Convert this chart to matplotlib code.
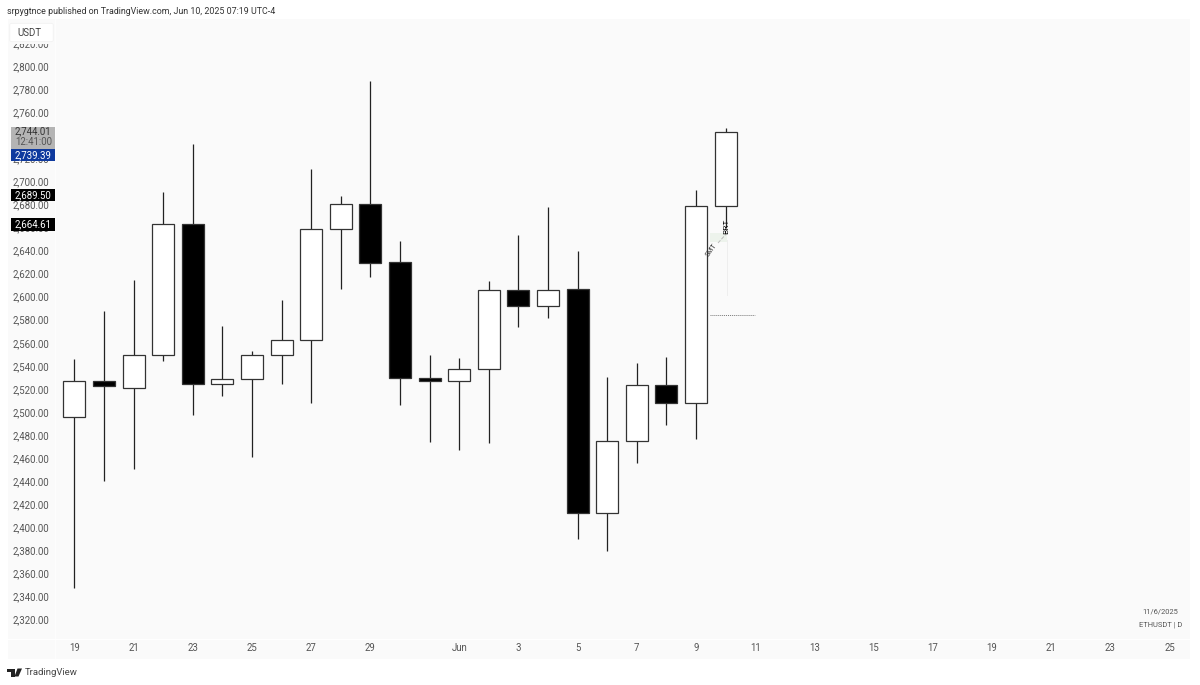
import matplotlib
matplotlib.use('Agg')
import matplotlib.pyplot as plt
from matplotlib.patches import Rectangle, FancyBboxPatch, Polygon
from matplotlib.transforms import ScaledTranslation

plt.rcParams['font.family'] = ['Roboto', 'DejaVu Sans']

W, H = 1200, 685

# daily candles, May 19 to Jun 10 2025
day = list(range(23))
open_ = [2496.4, 2527.7, 2522.0, 2550.0, 2664.0, 2525.0, 2529.4, 2550.0, 2563.0, 2659.5, 2681.0, 2631.0,
         2530.0, 2527.5, 2538.0, 2606.6, 2593.0, 2607.5, 2413.0, 2476.0, 2524.0, 2508.6, 2679.5]
close = [2527.7, 2523.3, 2550.0, 2664.0, 2525.0, 2529.4, 2550.0, 2563.0, 2659.5, 2681.0, 2630.0, 2530.0,
         2527.5, 2538.0, 2606.6, 2593.0, 2606.6, 2413.0, 2475.6, 2524.0, 2508.6, 2679.5, 2743.6]
high = [2546.7, 2588.4, 2615.0, 2692.0, 2733.0, 2575.0, 2554.0, 2598.0, 2711.5, 2688.0, 2788.0, 2649.0,
        2550.0, 2548.0, 2614.0, 2654.0, 2679.0, 2640.0, 2531.0, 2543.0, 2548.5, 2693.0, 2747.0]
low = [2348.0, 2441.0, 2451.0, 2545.0, 2498.0, 2515.0, 2462.0, 2525.0, 2509.0, 2607.5, 2618.0, 2507.0,
       2475.0, 2468.0, 2474.0, 2574.5, 2582.0, 2391.0, 2380.0, 2456.5, 2489.5, 2477.0, 2660.0]

# 2,740 is completely hidden behind the price tags in the reference
price_ticks = [p for p in range(2320, 2821, 20) if p != 2740]
date_pos = [0, 2, 4, 6, 8, 10, 13, 15, 17, 19, 21, 23, 25, 27, 29, 31, 33, 35, 37]
date_lab = ['19', '21', '23', '25', '27', '29', 'Jun', '3', '5', '7', '9', '11', '13', '15', '17', '19', '21', '23', '25']

fig = plt.figure(figsize=(12, 6.85), dpi=100, facecolor='white')

# main pane, pixel box 8..1190 x 19..639
ax = fig.add_axes([8 / W, 1 - 639 / H, 1182 / W, 620 / H], facecolor='#fafafa')
px_per_day = 29.6
ax.set_xlim((8 - 74.4) / px_per_day, (1190 - 74.4) / px_per_day)
px_per_usd = 1.153
ax.set_ylim(2800 - (639 - 67) / px_per_usd, 2800 - (19 - 67) / px_per_usd)
for s in ax.spines.values():
    s.set_visible(False)

for i in day:
    top = max(open_[i], close[i])
    bot = min(open_[i], close[i])
    col = 'white' if close[i] >= open_[i] else 'black'
    ax.plot([i, i], [bot, low[i]], color='#222222', lw=0.9, solid_capstyle='butt', zorder=2)
    ax.plot([i, i], [top, high[i]], color='#222222', lw=0.9, solid_capstyle='butt', zorder=2)
    ax.add_patch(Rectangle((i - 0.37, bot), 0.74, top - bot, facecolor=col, edgecolor='#333333', lw=0.9, zorder=3))

ax.set_yticks(price_ticks)
ax.set_yticklabels([f'{p:,.2f}' for p in price_ticks])
ax.tick_params(axis='y', length=0, pad=-29.5, labelsize=6.9, labelcolor='#555555')
ax.set_xticks([])
up_1px = ScaledTranslation(0, 1 / 100, fig.dpi_scale_trans)
for t in ax.get_yticklabels():
    t.set_transform(t.get_transform() + up_1px)

# time axis strip
ax2 = fig.add_axes([8 / W, 1 - 659 / H, 1182 / W, 19 / H], facecolor='#fafafa')
ax2.set_xlim(ax.get_xlim())
ax2.set_ylim(0, 1)
ax2.set_yticks([])
ax2.set_xticks(date_pos)
ax2.set_xticklabels(date_lab)
ax2.tick_params(axis='x', length=0, pad=-11.5, labelsize=6.9, labelcolor='#555555')
for s in ax2.spines.values():
    s.set_visible(False)
fig.add_artist(Rectangle((8 / W, 1 - 640 / H), 1182 / W, 1.2 / H, transform=fig.transFigure, color='white', lw=0))
fig.add_artist(Rectangle((55 / W, 1 - 659 / H), 1 / W, 640 / H, transform=fig.transFigure, color='white', lw=0, alpha=0.8))


def px(x, y):
    return x / W, 1 - y / H


def tag(y0, y1, col, lines):
    fig.add_artist(Rectangle(px(11, y1), 44 / W, (y1 - y0) / H, transform=fig.transFigure, color=col, lw=0, zorder=6))
    for yy, s, c in lines:
        fig.text(*px(15, yy), s, fontsize=6.9, color=c, va='center', ha='left', zorder=7)


# price axis labels
tag(127, 149, '#b4b4b4', [(131.5, '2,744.01', '#333333'), (142, '12:41:00', '#555555')])
tag(149, 161, '#0f3a9e', [(155, '2,739.39', 'white')])
tag(189, 201, 'black', [(195, '2,689.50', 'white')])
tag(218, 231, 'black', [(224, '2,664.61', 'white')])

# USDT button sits over the top of the scale and clips the 2,820 label
fig.add_artist(Rectangle(px(8, 44), 47 / W, 25 / H, transform=fig.transFigure, color='#fafafa', lw=0, zorder=5))
fig.add_artist(FancyBboxPatch(px(11, 41), 41 / W, 17 / H, boxstyle='round,pad=0.001,rounding_size=0.002',
                              transform=fig.transFigure, fc='white', ec='#f0f0f0', lw=0.5, zorder=6))
fig.text(*px(17, 32.5), 'USDT', fontsize=6.9, color='#444444', va='center', zorder=7)

# header and footer
fig.text(*px(7, 11), 'srpygtnce published on TradingView.com, Jun 10, 2025 07:19 UTC-4', fontsize=6.4,
         color='#333333', va='center')
fig.text(*px(25, 672.5), 'TradingView', fontsize=6.8, color='#444444', va='center')
fig.text(*px(1178, 612), '11/6/2025', fontsize=5.4, color='#555555', va='center', ha='right')
fig.text(*px(1182, 625), 'ETHUSDT | D', fontsize=5.4, color='#555555', va='center', ha='right')

# logo
logo = [[(7, 668.5), (14.5, 668.5), (14.5, 676.5), (11, 676.5), (11, 672), (7, 672)],
        [(17.5, 668.5), (22, 668.5), (18.5, 676.5), (14.5, 676.5)]]
for pts in logo:
    fig.add_artist(Polygon([px(*p) for p in pts], transform=fig.transFigure, color='#222222', lw=0))


# drawing tools left on the chart
def seg(x0, y0, x1, y1, **kw):
    a, b = px(x0, y0), px(x1, y1)
    fig.add_artist(plt.Line2D([a[0], b[0]], [a[1], b[1]], transform=fig.transFigure, **kw))


fig.add_artist(Rectangle(px(710, 242), 17 / W, 9 / H, transform=fig.transFigure, color='#edf3ec', lw=0, zorder=1.5))
seg(718, 243, 727, 233, color='#bbbbbb', lw=0.7, ls='--', zorder=4)
seg(727, 240, 727, 295, color='#eeeeee', lw=0.7, zorder=1.5)
seg(710, 315, 755, 315, color='#777777', lw=0.7, ls=(0, (1, 1)), zorder=4)
fig.text(*px(726, 226), 'BRT', fontsize=6, rotation=90, color='#111111', ha='center', va='center', zorder=5)
fig.text(*px(712, 250), 'SMT', fontsize=5, rotation=55, color='#333333', ha='center', va='center', zorder=5)

fig.savefig('out.png', dpi=100)
